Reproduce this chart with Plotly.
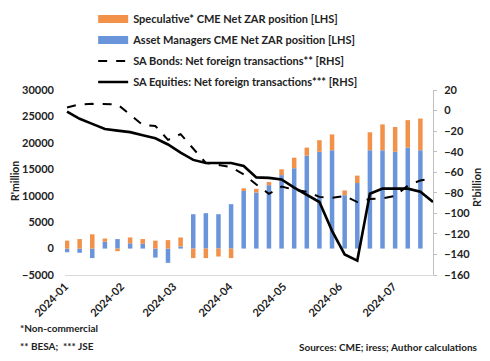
import plotly.graph_objects as go
import pandas as pd

# ---- data ----
bar_dates = pd.date_range("2024-01-02", periods=29, freq="7D")
line_dates = pd.date_range("2024-01-02", periods=30, freq="7D")

asset_managers = [-700, -800, -1800, 1300, 1800, 1000, 900, -1700, -2700, 400,
                  6500, 6700, 6500, 8400, 10900, 10600, 12000, 13900, 15200, 17600,
                  18300, 18600, 10100, 12400, 18600, 18600, 18300, 19100, 18600]
speculative = [1500, 1800, 2700, 600, -500, 1100, 900, 1500, 1600, 1700,
               -1800, -1800, -1500, -1800, 500, 700, 600, 1100, 2000, 1500,
               2200, 3000, 900, 1400, 3400, 4900, 4700, 5200, 6000]
sa_bonds = [3, 6, 6.5, 6.5, 6, -4, -14, -15, -28.5, -23,
            -37, -51, -53, -55, -62, -72, -81, -74, -77, -79,
            -84, -85, -83, -89, -86, -85.5, -83, -73, -68, -66]
sa_equities = [-1, -8, -13, -18, -19.5, -21, -24, -27, -33, -41,
               -48, -51, -51, -51, -54, -65, -65.5, -67, -75, -82,
               -89, -117, -140, -146, -81, -76, -76, -76, -79, -89]

left_ticks = [30000, 25000, 20000, 15000, 10000, 5000, 0, -5000]
right_ticks = [20, 0, -20, -40, -60, -80, -100, -120, -140, -160]

BLUE = "#6B95DB"
ORANGE = "#F2914A"
FONT = "Lato"
bar_w = 2.5 * 86400000

# page offset (body margin) compensation: figure drawn at (8,8)
W, H = 482, 353

SPEC_NAME = "Speculative* CME Net ZAR position [LHS]"
AM_NAME = "Asset Managers CME Net ZAR position [LHS]"

fig = go.Figure()
fig.add_trace(go.Bar(x=bar_dates, y=asset_managers, name=AM_NAME,
                     marker=dict(color=BLUE, line=dict(width=0)), width=bar_w,
                     showlegend=False))
fig.add_trace(go.Bar(x=bar_dates, y=speculative, name=SPEC_NAME,
                     marker=dict(color=ORANGE, line=dict(width=0)), width=bar_w,
                     showlegend=False))
# legend swatches for the bar series (wide rectangles like the original)
fig.add_trace(go.Scatter(x=[None], y=[None], mode="lines", name=SPEC_NAME,
                         line=dict(color=ORANGE, width=8), legendgroup="a", legendrank=1))
fig.add_trace(go.Scatter(x=[None], y=[None], mode="lines", name=AM_NAME,
                         line=dict(color=BLUE, width=8), legendgroup="b", legendrank=2))
fig.add_trace(go.Scatter(x=line_dates, y=sa_bonds, yaxis="y2", mode="lines",
                         name="SA Bonds: Net foreign transactions** [RHS]",
                         line=dict(color="black", width=2, dash="dash"),
                         legendgroup="c", legendrank=3))
fig.add_trace(go.Scatter(x=line_dates, y=sa_equities, yaxis="y2", mode="lines",
                         name="SA Equities: Net foreign transactions*** [RHS]",
                         line=dict(color="black", width=2.6),
                         legendgroup="d", legendrank=4))

fig.update_layout(
    width=W, height=H,
    margin=dict(l=57, r=57, t=82, b=86, autoexpand=False),
    paper_bgcolor="white", plot_bgcolor="white",
    barmode="relative",
    font=dict(family=FONT, size=11, color="#222222", weight="bold"),
    showlegend=True,
    legend=dict(x=0.0765, xanchor="left", y=1.462, yanchor="top",
                traceorder="grouped", tracegroupgap=2,
                font=dict(size=11, family=FONT, weight="bold"),
                bgcolor="rgba(0,0,0,0)", itemwidth=30),
    xaxis=dict(type="date", range=["2023-12-31 21:00", "2024-07-23"],
               tick0="2024-01-01", dtick="M1", tickformat="%Y-%m", tickangle=-45,
               showgrid=False, zeroline=False, showline=True, linecolor="#d9d9d9",
               linewidth=1, ticks="", tickfont=dict(size=11)),
    yaxis=dict(range=[-5000, 30000], tickvals=left_ticks, tickformat="d", showgrid=False,
               zeroline=False, showline=False, ticks="", ticklabelstandoff=10,
               tickfont=dict(size=11)),
    yaxis2=dict(range=[-160, 20], tickvals=right_ticks, overlaying="y", side="right",
                showgrid=False, zeroline=False, showline=True, linecolor="#bfbfbf",
                ticks="outside", ticklen=3, tickcolor="#bfbfbf", ticklabelstandoff=5,
                tickfont=dict(size=11)),
)

def px_x(p):
    return (p - 65) / 368

def px_y(p):
    return (275 - p) / 185

fig.add_annotation(text="R'million", xref="paper", yref="paper", x=px_x(14.5), y=px_y(181.5),
                   xanchor="center", yanchor="middle",
                   textangle=-90, showarrow=False, font=dict(size=10.5, family=FONT, weight="bold"))
fig.add_annotation(text="R'billion", xref="paper", yref="paper", x=px_x(476), y=px_y(188),
                   xanchor="center", yanchor="middle",
                   textangle=-90, showarrow=False, font=dict(size=11, family=FONT, weight="bold"))
fig.add_annotation(text="*Non-commercial", xref="paper", yref="paper",
                   x=px_x(18), y=px_y(328), xanchor="left", yanchor="middle",
                   showarrow=False, font=dict(size=10, family=FONT, weight="bold"))
fig.add_annotation(text="** BESA;  *** JSE", xref="paper", yref="paper",
                   x=px_x(18), y=px_y(346), xanchor="left", yanchor="middle",
                   showarrow=False, font=dict(size=10, family=FONT, weight="bold"))
fig.add_annotation(text="Sources: CME; iress; Author calculations", xref="paper", yref="paper",
                   x=px_x(480), y=px_y(347), xanchor="right", yanchor="middle",
                   showarrow=False, font=dict(size=10, family=FONT, weight="bold"))

fig.write_html("out.html")
